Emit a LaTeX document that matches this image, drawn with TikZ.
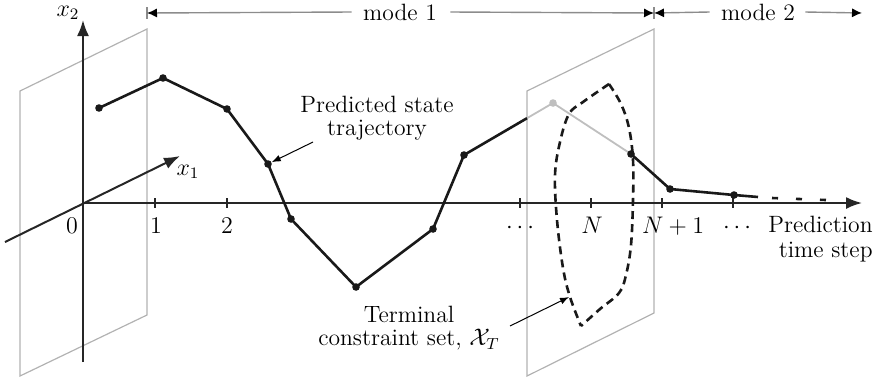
\documentclass[tikz,border=0pt]{standalone}
\usetikzlibrary{arrows.meta,calc}
\tikzset{mtip/.tip={Latex[length=5pt,width=4.6pt,color=black]}}
\begin{document}
\begin{tikzpicture}[x=0.5pt,y=-0.5pt,
  every node/.style={font=\fontsize{11.8}{12}\selectfont},
  planeline/.style={draw=black!30,line width=0.6pt},
  axisline/.style={draw=black!85,line width=1pt,-{Latex[length=8pt,width=6pt]}},
  tickmark/.style={draw=black!85,line width=0.6pt},
  traj/.style={draw=black!90,line width=1.3pt,line join=round},
  hiddenline/.style={draw=black!25,line width=0.9pt},
  trajdot/.style={circle,fill=black!90,inner sep=0pt,minimum size=3.8pt},
  hdot/.style={circle,fill=black!25,inner sep=0pt,minimum size=3.8pt},
  tset/.style={draw=black!90,line width=1.3pt,dash pattern=on 4pt off 2.6pt},
  modeline/.style={draw=black!45,line width=0.7pt},
  note/.style={draw=black,line width=0.5pt,-{Latex[length=4.5pt,width=3.4pt]}},
  lab/.style={inner sep=0pt}
]
\useasboundingbox (0,0) rectangle (881,381);

% planes
\draw[planeline] (20,91) -- (147,29) -- (147,315) -- (20,376) -- cycle;
\draw[planeline] (527,91) -- (654,29) -- (654,313) -- (527,376) -- cycle;

% axes
\coordinate (O) at (83,203);
\coordinate (xend) at (862,203);
\coordinate (ybot) at (83,362);
\coordinate (yend) at (83,20);
\coordinate (zbot) at (5,242);
\coordinate (zend) at (180,156);
\draw[axisline] (O) -- (xend);
\draw[axisline] (ybot) -- (yend);
\draw[axisline] (zbot) -- (zend);
\foreach \x in {155,227,520,591,662,733} \draw[tickmark] (\x,198) -- (\x,208);

\node (x2l) at (68,13) {$x_2$};
\node (x1l) at (188,172) {$x_1$};
\node[lab,anchor=base] (l0) at (72,233) {$0$};
\node[lab,anchor=base] (l1) at (156,233) {$1$};
\node[lab,anchor=base] (l2) at (227,233) {$2$};
\node[lab,anchor=base] (l3) at (520,233) {$\cdots$};
\node[lab,anchor=base] (l4) at (592,233) {$N$};
\node[lab,anchor=base] (l5) at (673,233) {$N+1$};
\node[lab,anchor=base] (l6) at (737,233) {$\cdots$};
\node[lab,anchor=north east,align=right,font=\fontsize{11.8}{12.5}\selectfont] (pts) at (873,216) {Prediction\\time step};

% trajectory
\coordinate (p0) at (99,108);
\coordinate (p1) at (163,78);
\coordinate (p2) at (227,109);
\coordinate (p3) at (268,164);
\coordinate (p4) at (291,219);
\coordinate (p5) at (356,287);
\coordinate (p6) at (433,229);
\coordinate (p7) at (464,155);
\coordinate (p8) at (553,103);
\coordinate (p9) at (631,154);
\coordinate (p10) at (670,189);
\coordinate (p11) at (734,195);
\coordinate (c) at ($(p7)!0.708!(p8)$);
\coordinate (q1) at (758,197);
\coordinate (q2) at (772,198);
\coordinate (q3) at (826,200);

\draw[hiddenline] (c) -- (p8) -- (p9);
\draw[traj] (p0) -- (p1) -- (p2) -- (p3) -- (p4) -- (p5) -- (p6) -- (p7) -- (c);
\draw[traj] (p9) -- (p10) -- (p11) -- (q1);
\draw[traj,dash pattern=on 3pt off 9pt] (q2) -- (q3);

\foreach \n in {0,1,2,3,4,5,6,7,9,10,11} \node[trajdot] (d\n) at (p\n) {};
\node[hdot] (d8) at (p8) {};

% terminal set
\draw[tset] plot[smooth,tension=0.6] coordinates {(609,84) (583,102) (569,114) (560,142) (555,175) (557,220) (563,268) (570,297) (581,326)};
\draw[tset] plot[smooth,tension=0.6] coordinates {(609,84) (621,104) (629,128) (633,160) (633,200) (631,245) (626,275) (619,293) (600,309) (581,326)};

% annotations
\node[lab,anchor=north,align=center,font=\fontsize{11.8}{11.6}\selectfont] (pst) at (377,96) {Predicted state\\trajectory};
\coordinate (a1) at (313,142);
\draw[note] (a1) -- (d3);
\node[lab,anchor=north,align=center,font=\fontsize{11.8}{11.6}\selectfont] (tcs) at (409,306) {Terminal\\constraint set, $\mathcal{X}_T$};
\coordinate (a2) at (510,326);
\coordinate (tsp) at (569,297);
\draw[note] (a2) -- (tsp);

% modes
\node[lab] (m1) at (400,12) {mode 1};
\node[lab] (m2) at (758,12) {mode 2};
\coordinate (bl) at (147,13);
\coordinate (bm) at (654,13);
\coordinate (er) at (862,13);
\draw[modeline] (147,7) -- (147,19);
\draw[modeline] (654,7) -- (654,19);
\draw[modeline,{mtip}-] (bl) -- ($(m1.west)+(-11,0)$);
\draw[modeline,-{mtip}] ($(m1.east)+(13,0)$) -- (bm);
\draw[modeline,{mtip}-] (bm) -- ($(m2.west)+(-11,0)$);
\draw[modeline,-{mtip}] ($(m2.east)+(10,0)$) -- (er);
\end{tikzpicture}
\end{document}
